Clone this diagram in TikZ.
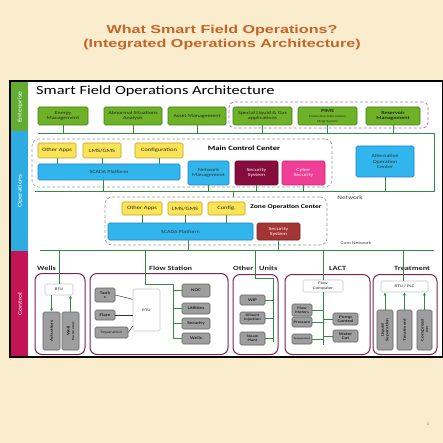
\documentclass[tikz,border=0pt]{standalone}
\usepackage{fontspec}
\setmainfont{Carlito}[FakeStretch=1.3]
\newfontfamily\titlefont{Liberation Sans}[FakeStretch=1.4]
\usetikzlibrary{arrows.meta,calc}
\definecolor{parch}{RGB}{250,237,206}
\definecolor{titlec}{RGB}{196,100,40}
\definecolor{entg}{RGB}{110,178,40}
\definecolor{entgd}{RGB}{62,122,22}
\definecolor{yel}{RGB}{250,228,85}
\definecolor{yeld}{RGB}{190,160,40}
\definecolor{blu}{RGB}{48,182,236}
\definecolor{blud}{RGB}{30,130,190}
\definecolor{secmcc}{RGB}{135,12,62}
\definecolor{cyber}{RGB}{240,62,150}
\definecolor{seczoc}{RGB}{165,52,52}
\definecolor{grayb}{RGB}{158,158,158}
\definecolor{grayd}{RGB}{98,98,98}
\definecolor{grpc}{RGB}{128,36,78}
\definecolor{netg}{RGB}{48,140,68}
\definecolor{bandg}{RGB}{98,172,52}
\definecolor{bandb}{RGB}{45,172,226}
\definecolor{bandr}{RGB}{196,20,86}
\definecolor{purp}{RGB}{175,115,195}
\newcommand\bx[7]{\node[#1,minimum width=#5pt,minimum height=#6pt] (#2) at (#3,#4) {#7};}
\begin{document}
\begin{tikzpicture}[x=1pt,y=-1pt,
  basebox/.style={rounded corners=1.5pt,inner sep=0pt,align=center,line width=0.6pt},
  ebox/.style={basebox,fill=entg,draw=entgd,text=black!85,font=\fontsize{4.6}{5.2}\selectfont},
  ybox/.style={basebox,fill=yel,draw=yeld,text=black!85,font=\fontsize{5}{5.5}\selectfont},
  bbox/.style={basebox,fill=blu,draw=blud,text=black!80,font=\fontsize{4.6}{5.3}\selectfont},
  gbox/.style={basebox,fill=grayb,draw=grayd,text=black!85,font=\bfseries\fontsize{4}{4.4}\selectfont},
  wbox/.style={basebox,fill=white,draw=gray!45,text=black!85,font=\fontsize{3.8}{4.2}\selectfont},
  grp/.style={draw=grpc,line width=1pt,rounded corners=7pt,inner sep=0pt},
  dbox/.style={draw=gray!80,densely dashed,line width=0.6pt,rounded corners=7pt,inner sep=0pt},
  grplabel/.style={font=\bfseries\fontsize{6.4}{7}\selectfont,text=black!85,anchor=west,inner sep=0pt},
  net/.style={draw=netg,line width=0.9pt},
  arr/.style={net,-{Latex[length=3pt,width=3pt]}},
  band/.style={rotate=90,text=white,font=\fontsize{5.8}{6}\selectfont}]
\fill[parch] (0,0) rectangle (443,443);
\useasboundingbox (0,0) rectangle (443,443);
\node[font=\titlefont\bfseries\fontsize{11.5}{14}\selectfont,text=titlec,align=center] (title) at (222,38) {What Smart Field Operations?\\(Integrated Operations Architecture)};
\node[font=\fontsize{4}{4}\selectfont,text=black!60] (pagenum) at (428,424) {1};
% frame
\fill[white] (10,81) rectangle (442.5,357);
\fill[bandg] (11,82) rectangle (28,131);
\fill[bandb] (11,131) rectangle (28,251);
\fill[bandr] (11,251) rectangle (28,356);
\draw[line width=1.5pt] (10,81) rectangle (442.5,357);
\node[band] (lbE) at (20,107) {Enterprise};
\node[band] (lbO) at (20,191) {Operations};
\node[band] (lbC) at (20,304) {Control};
\node[anchor=west,inner sep=0pt,font=\fontsize{12.6}{14}\selectfont] (ftitle) at (36,91) {Smart Field Operations Architecture};
% network coordinates
\coordinate (n1L) at (38,133); \coordinate (n1R) at (434,133);
\coordinate (n2L) at (35,191); \coordinate (n2R) at (434,191);
\coordinate (n3L) at (40,250); \coordinate (n3R) at (434,250);
% enterprise
\node[draw=purp,densely dashed,line width=0.8pt,rounded corners=5pt,minimum width=199pt,minimum height=26pt,inner sep=0pt] (pbox) at (328.5,115) {};
\bx{ebox}{en1}{63}{116}{50}{18}{Energy\\Management}
\bx{ebox}{en2}{133}{116}{58}{18}{Abnormal Situations\\Analysis}
\bx{ebox}{en3}{197}{116}{58}{18}{Asset Management}
\bx{ebox}{en4}{262.5}{116}{59}{18}{Special Liquid \& Gas\\applications}
\bx{ebox}{en5}{327.5}{116}{59}{18}{\textbf{PIMS}\\\fontsize{3}{3.4}\selectfont Production Information\\\fontsize{3}{3.4}\selectfont Mngt System}
\bx{ebox}{en6}{393}{116}{54}{18}{\textbf{Reservoir}\\\textbf{Management}}
% MCC
\bx{dbox}{mcc}{182}{163}{300}{48}{}
\bx{ybox}{mo}{57}{150.5}{38}{15}{Other Apps}
\bx{ybox}{ml}{102}{150.5}{38}{15}{LMS/GMS}
\bx{ybox}{mc}{159}{150.5}{48}{15}{Configuration}
\bx{bbox}{ms}{109}{172}{142}{16}{SCADA Platform}
\bx{bbox}{mn}{208.5}{173}{41}{24}{Network\\Management}
\node[basebox,fill=secmcc,draw=secmcc!70!black,text=white!85!pink,font=\fontsize{4.6}{5.3}\selectfont,minimum width=43pt,minimum height=24pt] (mss) at (256.5,173) {Security\\System};
\node[basebox,fill=cyber,draw=cyber!75!black,text=white!85!pink,font=\fontsize{4.6}{5.3}\selectfont,minimum width=43pt,minimum height=24pt] (mcs) at (303.5,173) {Cyber\\Security};
\node[font=\bfseries\fontsize{6.6}{7}\selectfont,inner sep=0pt] (mccl) at (244,148) {Main Control Center};
\bx{bbox}{aoc}{385}{161.5}{58}{31}{Alternative\\Operation\\Center}
% ZOC
\bx{dbox}{zoc}{216}{221}{222}{48}{}
\bx{ybox}{zo}{142}{208.5}{40}{13}{Other Apps}
\bx{ybox}{zl}{185}{208.5}{34}{13}{LMS/GMS}
\bx{ybox}{zc}{226.5}{208.5}{37}{13}{Config.}
\bx{bbox}{zs}{180.5}{231.5}{145}{17}{SCADA Platform}
\node[basebox,fill=seczoc,draw=seczoc!70!black,text=white!85!pink,font=\fontsize{4.6}{5.3}\selectfont,minimum width=43pt,minimum height=17pt] (zss) at (278.5,231.5) {Security\\System};
\node[font=\bfseries\fontsize{5.8}{6}\selectfont,inner sep=0pt] (zocl) at (286,207) {Zone Operation Center};
\node[font=\fontsize{5.5}{5.5}\selectfont,text=black!75,inner sep=0pt] (netl) at (350,197.5) {Network};
\node[font=\fontsize{4.2}{4.5}\selectfont,text=black!75,inner sep=0pt] (comnl) at (356,243) {Com Network};
% network lines
\draw[net] (n1L) -- (n1R) -- (n2R) -- (n2L);
\draw[net] (n3L) -- (n3R);
\foreach \n in {en1,en2,en3,en4,en5,en6} {\draw[net] (\n.south) -- (\n.south |- n1L);}
\foreach \n in {mo,ml,mc} {\draw[net] (\n.south) -- (\n.south |- ms.north);}
\foreach \n in {zo,zl,zc} {\draw[net] (\n.south) -- (\n.south |- zs.north);}
\draw[net] (ms.south -| 103,0) -- (n2L -| 103,0);
\foreach \n in {mn,mss,mcs,aoc} {\draw[net] (\n.south) -- (\n.south |- n2L);}
\draw[net] (zoc.north -| 233,0) -- (n2L -| 233,0);
\draw[net] (zs.south -| 188,0) -- (n3L -| 188,0);
\draw[net] (zss.south) -- (zss.south |- n3L);
% Control groups
\bx{grp}{gw}{60}{314}{50}{81}{}
\bx{grp}{gf}{159}{314}{138}{81}{}
\bx{grp}{go}{255.5}{314.5}{45}{80}{}
\bx{grp}{gl}{327.5}{314.5}{85}{80}{}
\bx{grp}{gt}{405}{314.5}{64}{80}{}
\node[grplabel] (lw) at (37,268) {Wells};
\node[grplabel] (lf) at (149,268.5) {Flow Station};
\node[grplabel] (lo1) at (233,268.5) {Other};
\node[grplabel] (lo2) at (259,268.5) {Units};
\node[grplabel] (ll) at (329,268.5) {LACT};
\node[grplabel] (ltr) at (394,268.5) {Treatment};
% Wells
\bx{wbox}{wr}{59}{289.5}{28}{11}{RTU}
\node[gbox,rotate=90,minimum width=38pt,minimum height=17pt] (wa) at (51.5,331) {Actuators};
\node[gbox,rotate=90,minimum width=38pt,minimum height=17pt] (wp) at (70.5,331) {Well\\\fontsize{3}{3.2}\selectfont Parameters};
\draw[net] (wr.north) -- (wr.north |- n3L);
\draw[arr] (wr.south -| wa.center) -- (wa.east);
\draw[arr] (wp.east) -- (wr.south -| wp.center);
% Flow station
\bx{wbox}{fr}{146.5}{310}{27}{42}{RTU}
\bx{gbox}{ft}{105}{295}{20}{14}{Tank\\s}
\bx{gbox}{ff}{105}{315}{20}{10}{Flare}
\node[gbox,font=\fontsize{3.8}{4.2}\selectfont,minimum width=33pt,minimum height=11pt] (fs) at (111.5,332.5) {Separation};
\draw[black!80,line width=0.5pt] (ft.east) -- ($(fr.north west)!0.25!(fr.south west)$);
\draw[black!80,line width=0.5pt] (ff.east) -- (fr.west |- ff.east);
\draw[black!80,line width=0.5pt] (fs.east) -- ($(fr.north west)!0.88!(fr.south west)$);
\bx{gbox}{fn}{196}{290.5}{28}{13}{NOC}
\bx{gbox}{fu}{196}{308.5}{28}{11}{Utilities}
\bx{gbox}{fse}{196}{323.5}{28}{11}{Security}
\bx{gbox}{fw}{196}{338.5}{28}{11}{Wells}
\coordinate (fa) at (145,284); \coordinate (fb) at (173,284); \coordinate (fc) at (173,338.5);
\draw[net] (fa |- n3L) -- (fa) -- (fb) -- (fc);
\foreach \n in {fn,fu,fse,fw} {\draw[net] (\n.west -| fb) -- (\n.west);}
% Other units
\bx{gbox}{ow}{252.5}{300}{25}{10}{WIP}
\node[gbox,font=\bfseries\fontsize{3.5}{3.9}\selectfont,minimum width=25pt,minimum height=12pt] (od) at (252.5,318) {Diluent\\Injection};
\node[gbox,font=\bfseries\fontsize{3.5}{3.9}\selectfont,minimum width=25pt,minimum height=13pt] (os) at (252.5,338.5) {Steam\\Plant};
\coordinate (oa) at (255,278); \coordinate (ob) at (273,278); \coordinate (oc) at (273,342);
\draw[net] (oa |- n3L) -- (oa) -- (ob) -- (oc);
\foreach \n in {ow,od,os} {\draw[net] (\n.east -| ob) -- (\n.east);}
% LACT
\bx{wbox}{lfc}{323}{286}{40}{12}{Flow\\Computer}
\node[gbox,font=\bfseries\fontsize{3.6}{4}\selectfont,minimum width=20pt,minimum height=12pt] (lm) at (302,310) {Flow\\Meters};
\node[gbox,font=\bfseries\fontsize{3.6}{4}\selectfont,minimum width=20pt,minimum height=10pt] (lp) at (302,322) {Pressure};
\node[gbox,font=\bfseries\fontsize{2.4}{3}\selectfont,minimum width=20pt,minimum height=10pt] (lt) at (302,339) {Temperature};
\bx{gbox}{lpc}{345.5}{319}{25}{12}{Pump\\Control}
\bx{gbox}{lwc}{345.5}{336}{25}{12}{Water\\Cut}
\coordinate (lb) at (323,345);
\draw[net] (lfc.north) -- (lfc.north |- n3L);
\draw[net] (lfc.south) -- (lb);
\foreach \n in {lm,lp,lt} {\draw[net] (\n.east -| lb) -- (\n.east);}
\foreach \n in {lpc,lwc} {\draw[net] (\n.west -| lb) -- (\n.west);}
% Treatment
\bx{wbox}{tr}{404.5}{286.5}{47}{11}{RTU / PLC}
\node[gbox,rotate=90,minimum width=40pt,minimum height=16pt] (tl) at (385,330) {Liquid\\Separation};
\node[gbox,rotate=90,minimum width=40pt,minimum height=15pt] (tt) at (404.5,330) {Treatment};
\node[gbox,rotate=90,minimum width=40pt,minimum height=15pt] (tc) at (424.5,330) {Compressi\\on};
\draw[net] (tr.north -| 403,0) -- (n3L -| 403,0);
\foreach \n in {tl,tt,tc} {\draw[arr] (\n.east) -- (tr.south -| \n.center);}
\end{tikzpicture}
\end{document}
